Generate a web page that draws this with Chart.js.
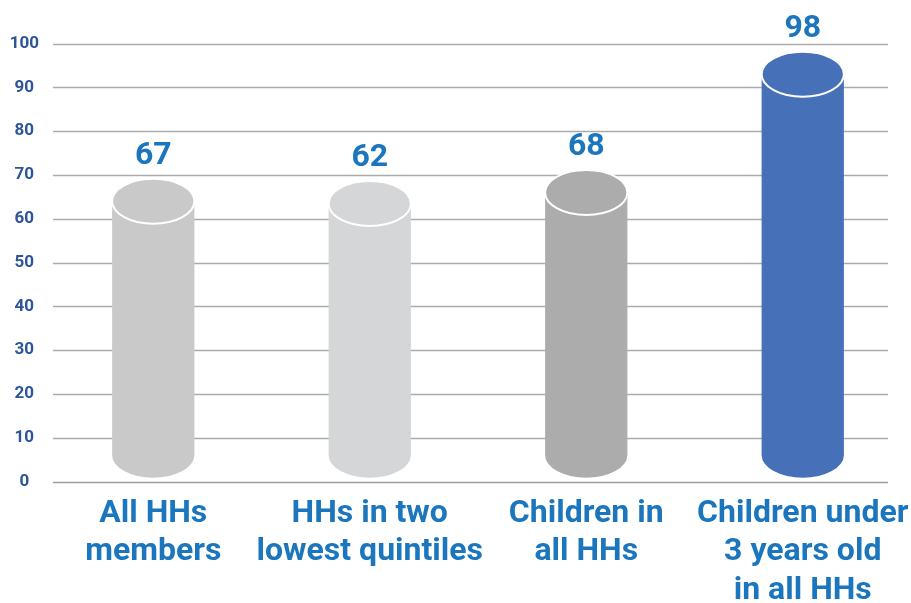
<!DOCTYPE html>
<html>
<head>
<meta charset="utf-8">
<script src="https://cdn.jsdelivr.net/npm/chart.js@4.4.0/dist/chart.umd.min.js"></script>
<style>
    html, body { margin: 0; padding: 0; background: #fff; }
    #wrap { width: 911px; height: 603px; position: relative; }
</style>
</head>
<body>
<div id="wrap"><canvas id="chart"></canvas></div>
<script>
var categories = [
    ['All HHs', 'members'],
    ['HHs in two', 'lowest quintiles'],
    ['Children in', 'all HHs'],
    ['Children under', '3 years old', 'in all HHs']
];
var valueLabels = ['67', '62', '68', '98'];
// cylinder heights as drawn in the picture (centre of the top ellipse)
var barHeights = [64, 63.5, 66, 93];
var barColors = ['#c9c9c9', '#d5d6d8', '#acacac', '#4671b8'];

var cylinders = {
    id: 'cylinders',
    beforeDatasetsDraw: function (chart) {
        var ctx = chart.ctx;
        var y = chart.scales.y;
        ctx.save();
        y.ticks.forEach(function (t) {
            var py = Math.round(y.getPixelForValue(t.value)) + 0.5;
            ctx.strokeStyle = t.value === 0 ? '#9c9c9c' : '#ababab';
            ctx.lineWidth = 1.4;
            ctx.beginPath();
            ctx.moveTo(53, py);
            ctx.lineTo(888, py);
            ctx.stroke();
        });
        ctx.restore();
    },
    afterDatasetsDraw: function (chart) {
        var ctx = chart.ctx;
        var meta = chart.getDatasetMeta(0);
        meta.data.forEach(function (bar, i) {
            var rx = bar.width / 2, ry = 22.5;
            var top = bar.y;
            var bottom = bar.base - 4 - ry;
            ctx.save();
            ctx.fillStyle = barColors[i];
            ctx.beginPath();
            ctx.moveTo(bar.x - rx, top);
            ctx.lineTo(bar.x - rx, bottom);
            ctx.ellipse(bar.x, bottom, rx, ry, 0, Math.PI, 0, true);
            ctx.lineTo(bar.x + rx, top);
            ctx.closePath();
            ctx.fill();

            ctx.beginPath();
            ctx.ellipse(bar.x, top, rx, ry, 0, 0, Math.PI * 2);
            ctx.fill();
            ctx.strokeStyle = '#ffffff';
            ctx.lineWidth = 2;
            ctx.stroke();

            ctx.fillStyle = '#1b76bd';
            ctx.font = 'bold 32px Roboto';
            ctx.textAlign = 'center';
            ctx.textBaseline = 'middle';
            ctx.fillText(valueLabels[i], bar.x, top - ry - 23);
            ctx.restore();
        });
    }
};

new Chart(document.getElementById('chart'), {
    type: 'bar',
    data: {
        labels: categories,
        datasets: [{
            data: barHeights,
            backgroundColor: 'rgba(0,0,0,0)',
            categoryPercentage: 1,
            barPercentage: 0.38
        }]
    },
    options: {
        responsive: true,
        maintainAspectRatio: false,
        animation: false,
        layout: { padding: { top: 43.5, right: 0, bottom: 0, left: 0 } },
        plugins: {
            legend: { display: false },
            tooltip: { enabled: false }
        },
        scales: {
            x: {
                grid: { display: false, drawTicks: false },
                border: { display: false },
                ticks: {
                    color: '#1b76bd',
                    font: { family: 'Roboto', size: 32, weight: 'bold', lineHeight: 1.2 },
                    padding: 13,
                    maxRotation: 0,
                    autoSkip: false
                },
                afterFit: function (scale) {
                    scale.height = 121.3;
                    scale.paddingLeft = 0;
                    scale.paddingRight = 0;
                }
            },
            y: {
                min: 0,
                max: 100,
                grid: { display: false, drawTicks: false },
                border: { display: false },
                ticks: {
                    stepSize: 10,
                    color: '#2d5597',
                    font: { family: 'Roboto', size: 17, weight: 'bold' },
                    padding: 6,
                    crossAlign: 'center'
                },
                afterFit: function (scale) {
                    scale.width = 45;
                }
            }
        }
    },
    plugins: [cylinders]
});
</script>
</body>
</html>
